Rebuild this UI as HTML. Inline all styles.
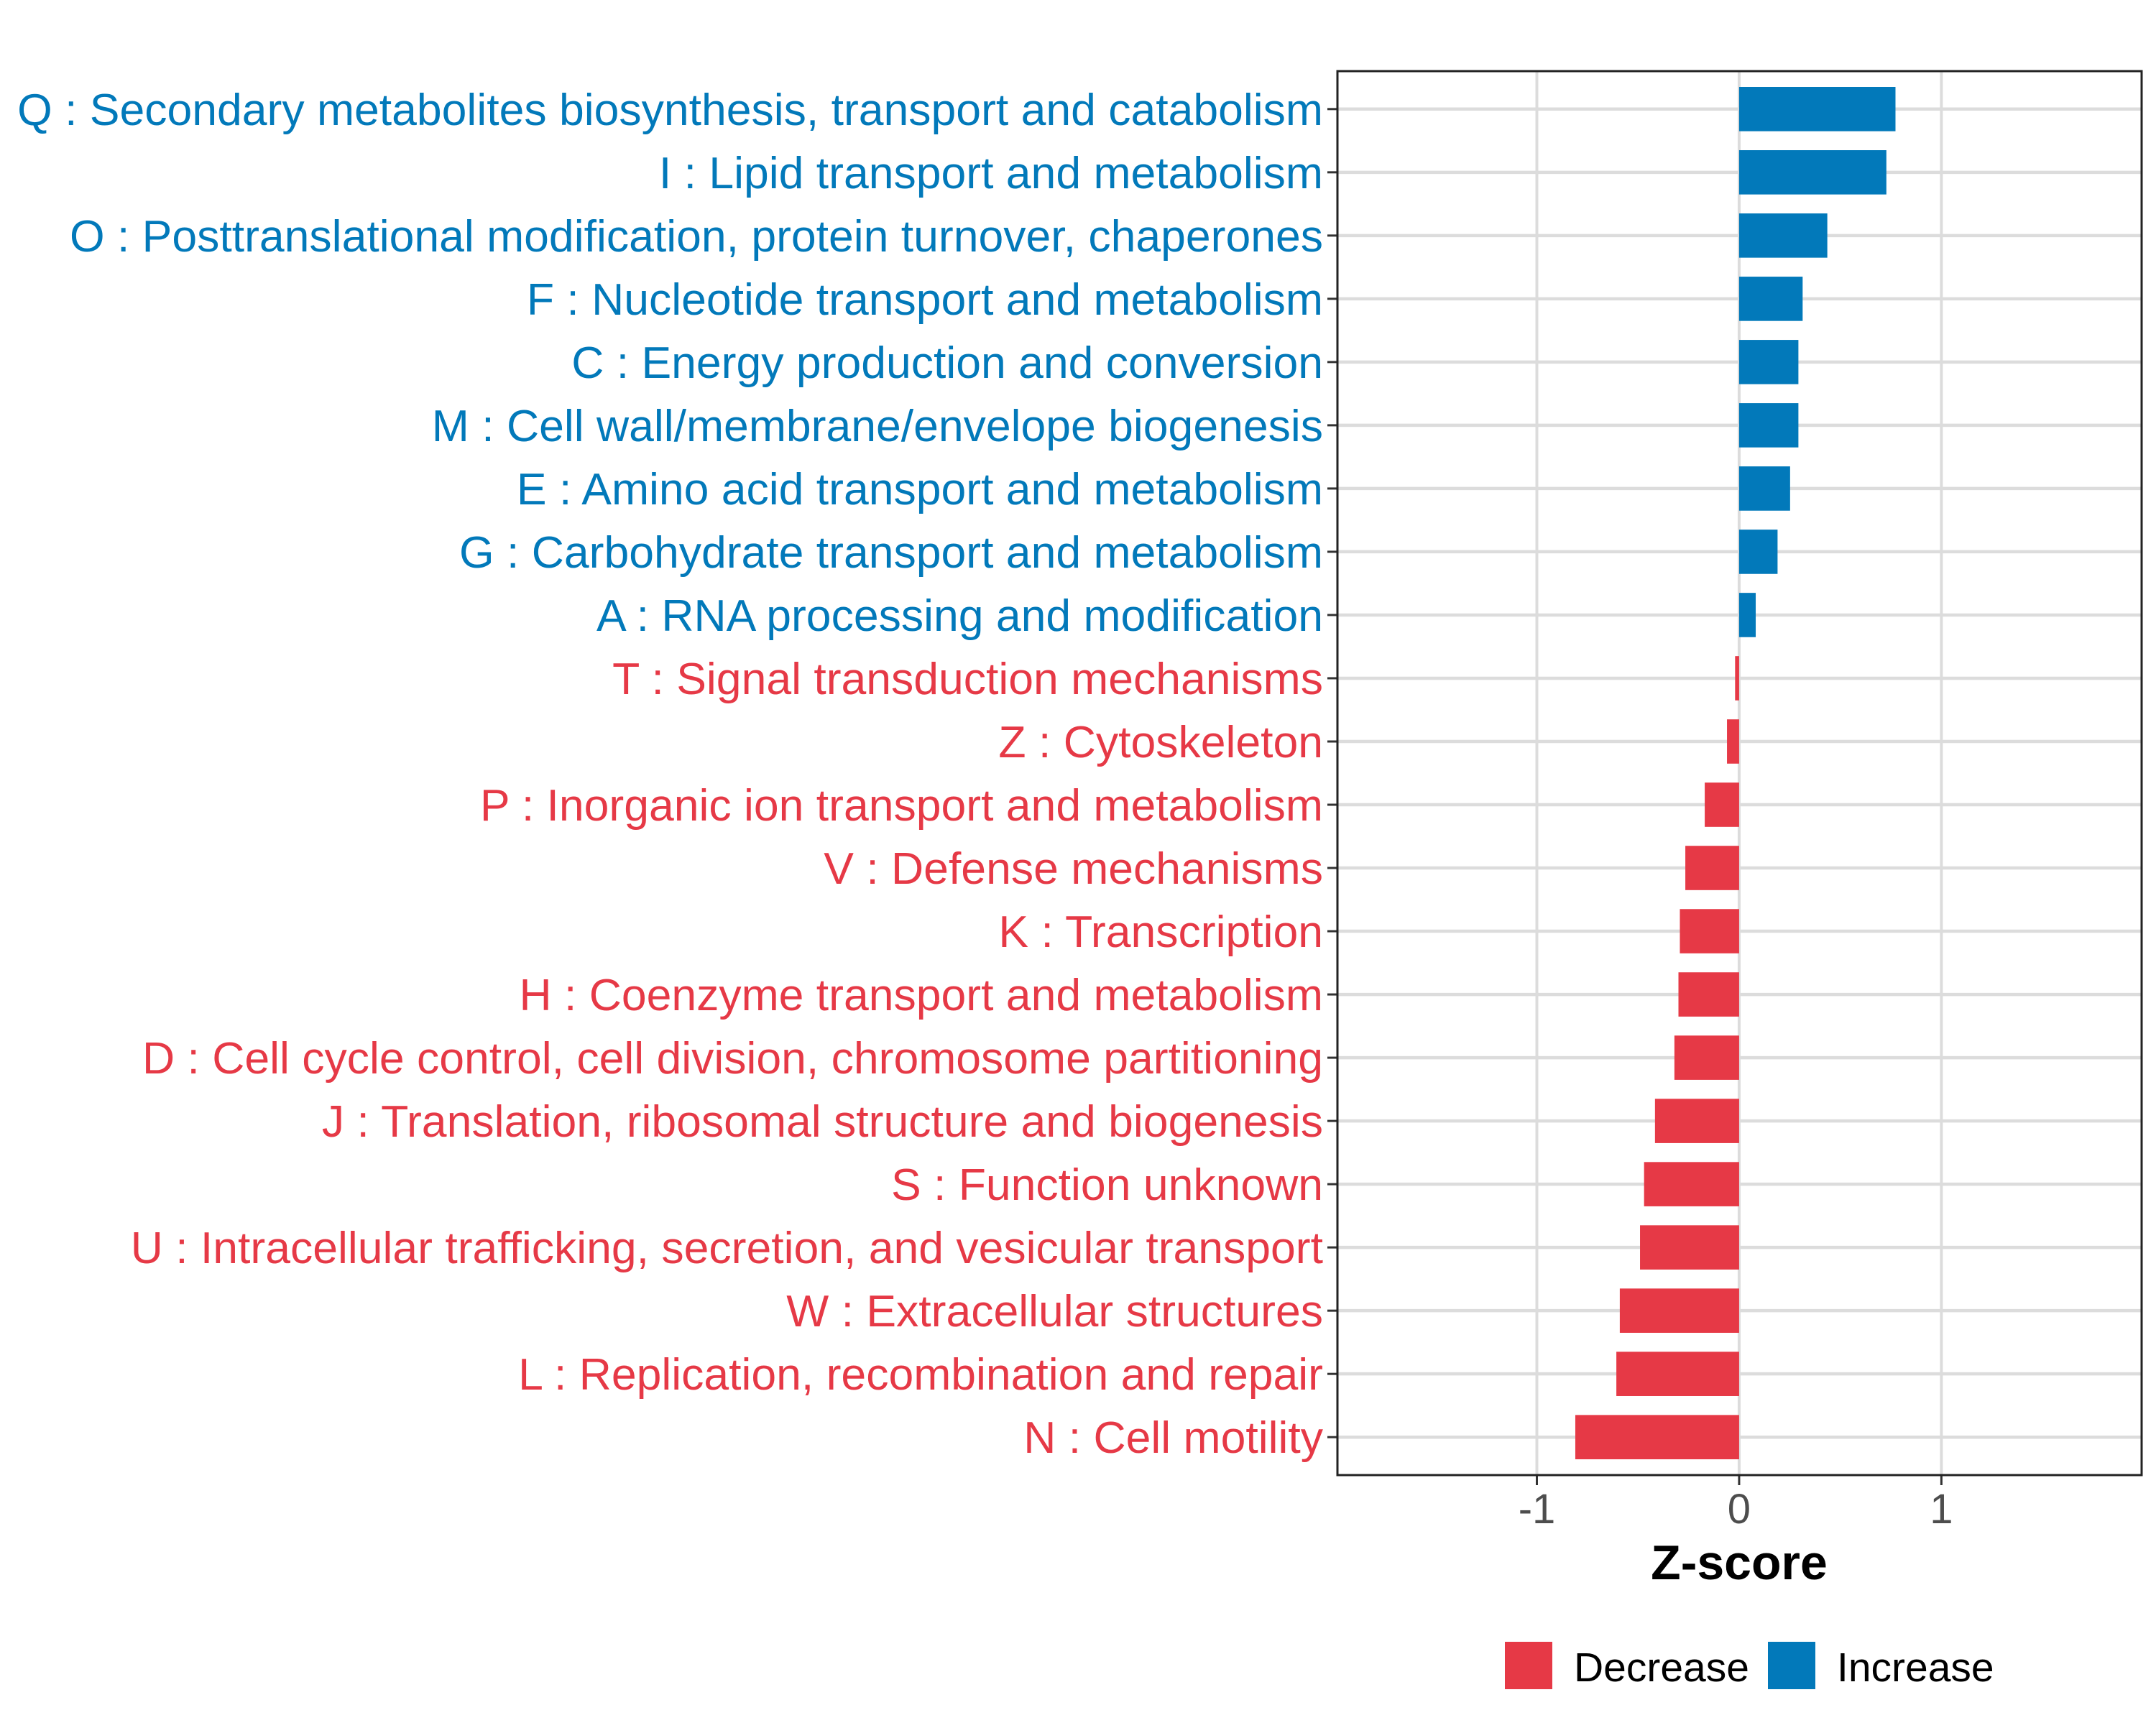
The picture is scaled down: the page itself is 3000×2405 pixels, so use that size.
<!DOCTYPE html>
<html><head><meta charset="utf-8"><style>
html,body{margin:0;padding:0;background:#fff;}
svg text{font-family:"Liberation Sans",Arial,sans-serif;}
</style></head><body>
<svg id="chart" width="3000" height="2400" viewBox="0 0 3000 2400" xmlns="http://www.w3.org/2000/svg">
<rect width="3000" height="2400" fill="#fff"/>
<g id="grid"></g><g id="bars"></g><g id="ylabels"></g><g id="xaxis"></g>
<rect x="1861" y="99" width="1119" height="1954" fill="none" stroke="#222" stroke-width="3"/>
<text x="2420" y="2198" text-anchor="middle" font-size="68" font-weight="bold" fill="#000">Z-score</text>
<g>
<rect x="2094" y="2285" width="66" height="66" fill="#E63946"/>
<text x="2190" y="2340" font-size="57" fill="#000">Decrease</text>
<rect x="2460" y="2285" width="66" height="66" fill="#0279BA"/>
<text x="2556" y="2340" font-size="57" fill="#000">Increase</text>
</g>
</svg>
<script>
const categories=["Q : Secondary metabolites biosynthesis, transport and catabolism","I : Lipid transport and metabolism","O : Posttranslational modification, protein turnover, chaperones","F : Nucleotide transport and metabolism","C : Energy production and conversion","M : Cell wall/membrane/envelope biogenesis","E : Amino acid transport and metabolism","G : Carbohydrate transport and metabolism","A : RNA processing and modification","T : Signal transduction mechanisms","Z : Cytoskeleton","P : Inorganic ion transport and metabolism","V : Defense mechanisms","K : Transcription","H : Coenzyme transport and metabolism","D : Cell cycle control, cell division, chromosome partitioning","J : Translation, ribosomal structure and biogenesis","S : Function unknown","U : Intracellular trafficking, secretion, and vesicular transport","W : Extracellular structures","L : Replication, recombination and repair","N : Cell motility"];
const zscores=[0.773,0.728,0.436,0.314,0.293,0.293,0.252,0.19,0.082,-0.02,-0.06,-0.17,-0.266,-0.293,-0.30,-0.32,-0.416,-0.47,-0.49,-0.59,-0.607,-0.81];
const xTicks=[-1,0,1];
const xTickLabels=["-1","0","1"];
const NS="http://www.w3.org/2000/svg";
const X0=1861,X1=2980,Y0=99,Y1=2053,XMIN=-1.986,XMAX=1.99;
const xs=v=>X0+(v-XMIN)/(XMAX-XMIN)*(X1-X0);
const step=(Y1-Y0)/(categories.length-1+1.2);
const ys=i=>Y0+step*(0.6+i);
const BLUE="#0279BA",RED="#E63946";
function mk(tag,attrs,parent){const e=document.createElementNS(NS,tag);for(const k in attrs)e.setAttribute(k,attrs[k]);parent.appendChild(e);return e;}
const grid=document.getElementById('grid'),bars=document.getElementById('bars'),yl=document.getElementById('ylabels'),xa=document.getElementById('xaxis');
xTicks.forEach((t,i)=>{
  const l=mk('line',{x1:xs(t),x2:xs(t),y1:Y0,y2:Y1,stroke:'#dcdcdc','stroke-width':4},grid);
  
  
  const tk=mk('line',{x1:xs(t),x2:xs(t),y1:Y1,y2:Y1+14,stroke:'#333','stroke-width':3},xa);
  
  
  const tx=mk('text',{x:xs(t),y:2120,'text-anchor':'middle','font-size':58,fill:'#4d4d4d'},xa);
  tx.textContent=xTickLabels[i];
  
  
});
categories.forEach((c,i)=>{
  const y=ys(i),v=zscores[i],col=v>=0?BLUE:RED;
  const g=mk('line',{x1:X0,x2:X1,y1:y,y2:y,stroke:'#dcdcdc','stroke-width':4.5},grid);
  
  
  const bh=step*0.7;
  const b=mk('rect',{x:Math.min(xs(0),xs(v)),y:y-bh/2,width:Math.abs(xs(v)-xs(0)),height:bh,fill:col},bars);
  
  
  const tk=mk('line',{x1:X0-14,x2:X0,y1:y,y2:y,stroke:'#333','stroke-width':3},yl);
  
  
  const t=mk('text',{x:1841,y:y+22,'text-anchor':'end','font-size':62.5,fill:col},yl);
  t.textContent=c;
  
  
});
</script>
</body></html>
